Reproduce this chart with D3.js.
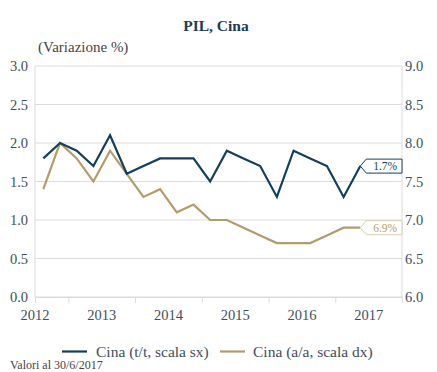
<!DOCTYPE html>
<html><head><meta charset="utf-8">
<script src="https://cdn.jsdelivr.net/npm/d3@7"></script>
<style>
body{margin:0;background:#fff;}
svg{display:block;font-family:"Liberation Serif","Times New Roman",serif;}
</style></head>
<body>
<script>
const quarters = ["2012Q3","2012Q4","2013Q1","2013Q2","2013Q3","2013Q4","2014Q1","2014Q2","2014Q3","2014Q4","2015Q1","2015Q2","2015Q3","2015Q4","2016Q1","2016Q2","2016Q3","2016Q4","2017Q1","2017Q2"];
const qoq = [1.8,2.0,1.9,1.7,2.1,1.6,1.7,1.8,1.8,1.8,1.5,1.9,1.8,1.7,1.3,1.9,1.8,1.7,1.3,1.7];
const yoy = [7.4,8.0,7.8,7.5,7.9,7.6,7.3,7.4,7.1,7.2,7.0,7.0,6.9,6.8,6.7,6.7,6.7,6.8,6.9,6.9];
const years = [2012,2013,2014,2015,2016,2017];
const leftTicks = [0,0.5,1,1.5,2,2.5,3];
const rightTicks = [6,6.5,7,7.5,8,8.5,9];
const seriesNames = ["Cina (t/t, scala sx)","Cina (a/a, scala dx)"];

const W=437,H=372;
const m={l:35,r:402,t:66,b:297};
const blue="#133f5c", gold="#b39c6a", grid="#dcdcdc", txt="#3e4e5e";

const svg=d3.select("body").append("svg").attr("width",W).attr("height",H);

const qTime = q => +q.slice(0,4) + (+q.slice(5)-1)/4 + 0.125;
const x=d3.scaleLinear().domain([2012.5,2018]).range([m.l,m.r]);
const yL=d3.scaleLinear().domain([0,3]).range([m.b,m.t]);
const yR=d3.scaleLinear().domain([6,9]).range([m.b,m.t]);

svg.append("g").selectAll("line").data(leftTicks).join("line")
  .attr("x1",m.l).attr("x2",m.r).attr("y1",d=>yL(d)).attr("y2",d=>yL(d))
  .attr("stroke",grid).attr("stroke-width",1);
svg.append("line").attr("x1",m.l).attr("x2",m.l).attr("y1",m.t).attr("y2",m.b).attr("stroke",grid);
svg.append("line").attr("x1",m.r).attr("x2",m.r).attr("y1",m.t).attr("y2",m.b).attr("stroke",grid);

const gl=svg.append("g").attr("transform",`translate(${m.l},0)`)
  .call(d3.axisLeft(yL).tickValues(leftTicks).tickFormat(d3.format(".1f")).tickSize(0).tickPadding(7));
gl.select(".domain").remove();
gl.selectAll("text").attr("font-size",14.5).attr("fill",txt).attr("font-family","Liberation Serif");

const gr=svg.append("g").attr("transform",`translate(${m.r},0)`)
  .call(d3.axisRight(yR).tickValues(rightTicks).tickFormat(d3.format(".1f")).tickSize(0).tickPadding(3));
gr.select(".domain").remove();
gr.selectAll("text").attr("font-size",14.5).attr("fill",txt).attr("font-family","Liberation Serif");

const gb=svg.append("g").attr("transform",`translate(0,${m.b})`)
  .call(d3.axisBottom(x).tickValues(years.slice(1)).tickSize(6).tickFormat(""));
gb.select(".domain").attr("stroke",grid);
gb.selectAll(".tick line").attr("stroke",grid);
svg.append("g").selectAll("text").data(years).join("text")
  .attr("x",d=>x(Math.max(d+0.5,2012.47))).attr("y",320)
  .attr("text-anchor","middle").attr("font-size",14.5).attr("fill",txt).text(d=>d);

const lineL=d3.line().x((d,i)=>x(qTime(quarters[i]))).y(d=>yL(d));
const lineR=d3.line().x((d,i)=>x(qTime(quarters[i]))).y(d=>yR(d));
svg.append("path").attr("d",lineR(yoy)).attr("fill","none").attr("stroke",gold).attr("stroke-width",2.2);
svg.append("path").attr("d",lineL(qoq)).attr("fill","none").attr("stroke",blue).attr("stroke-width",2.2);

function endLabel(px,py,label,col,border){
  const bx=px+6, w=m.r-bx, h=14;
  const p=`M${px},${py} L${bx},${py-h/2} L${m.r},${py-h/2} L${m.r},${py+h/2} L${bx},${py+h/2} Z`;
  svg.append("path").attr("d",p).attr("fill","#fff").attr("stroke",border).attr("stroke-width",1);
  svg.append("text").attr("x",bx+w/2+1).attr("y",py+4).attr("text-anchor","middle")
    .attr("font-size",11.5).attr("fill",col).text(label);
}
const li=quarters.length-1;
endLabel(x(qTime(quarters[li])),yL(qoq[li]),d3.format(".1f")(qoq[li])+"%",blue,blue);
endLabel(x(qTime(quarters[li])),yR(yoy[li]),d3.format(".1f")(yoy[li])+"%",gold,"#d9cdaf");

svg.append("text").attr("x",216).attr("y",31).attr("text-anchor","middle")
  .attr("font-size",15.5).attr("font-weight","bold").attr("fill","#1d3d56").text("PIL, Cina");
svg.append("text").attr("x",38).attr("y",52).attr("font-size",15).attr("fill","#444").text("(Variazione %)");

const lg=svg.append("g");
lg.append("line").attr("x1",62).attr("x2",87).attr("y1",351.5).attr("y2",351.5).attr("stroke",blue).attr("stroke-width",2.2);
lg.append("text").attr("x",96).attr("y",356.5).attr("font-size",15.5).attr("fill",txt).text(seriesNames[0]);
lg.append("line").attr("x1",220).attr("x2",245).attr("y1",351.5).attr("y2",351.5).attr("stroke",gold).attr("stroke-width",2.2);
lg.append("text").attr("x",253).attr("y",356.5).attr("font-size",15.5).attr("fill",txt).text(seriesNames[1]);

svg.append("text").attr("x",10).attr("y",369).attr("font-size",12).attr("fill","#444").text("Valori al 30/6/2017");
</script>
</body></html>
